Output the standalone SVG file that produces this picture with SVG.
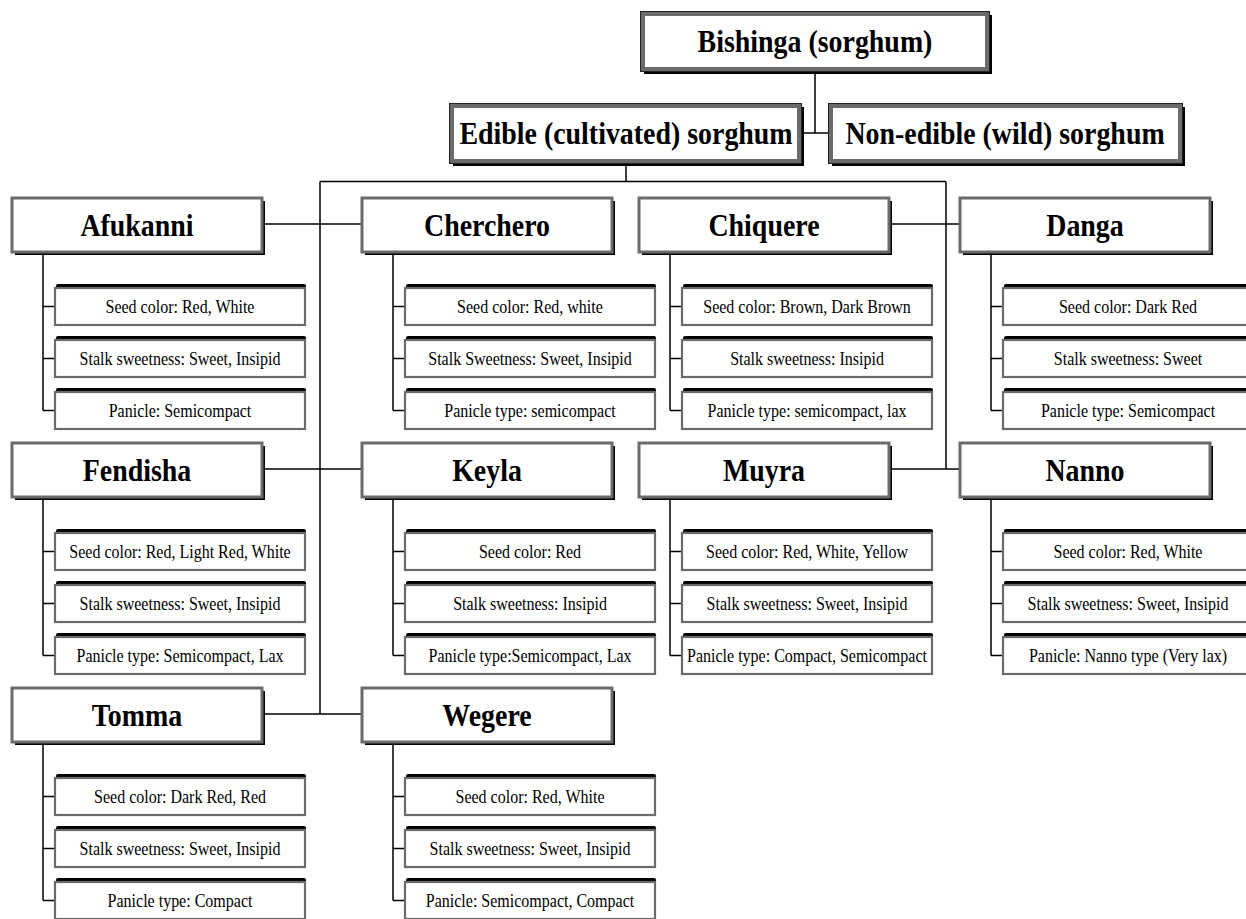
<svg xmlns="http://www.w3.org/2000/svg" width="1246" height="919" viewBox="0 0 1246 919">
<style>
.bg{fill:#fff}
.sh{fill:#000}
.top{fill:#fff;stroke:#6b6b6b;stroke-width:4}
.topo{fill:none;stroke:#222;stroke-width:1}
.cat{fill:#fff;stroke:#6b6b6b;stroke-width:3}
.att{fill:#fff;stroke:#6b6b6b;stroke-width:2.2}
.t1{font-family:"Liberation Serif","Times New Roman",serif;font-weight:bold;font-size:31px;fill:#000;text-anchor:middle;transform-box:fill-box;transform-origin:center;transform:scaleX(0.9)}
.t2{font-family:"Liberation Serif","Times New Roman",serif;font-size:18px;fill:#000;text-anchor:middle;transform-box:fill-box;transform-origin:center;transform:scaleX(0.89)}
.ln{fill:none;stroke:#000;stroke-width:1.5}
</style>
<rect class="bg" x="0" y="0" width="1246" height="919"/>
<g id="connectors">
<path class="ln" d="M815,72V133M802,133H829M626,164V181.5M320,181.5H946M320,181.5V714M946,181.5V469"/>
<path class="ln" d="M262,224H362M889,224H960M262,469H362M889,469H960M262,714H362"/>
<path class="ln" d="M43,252V410.5M43,306.5H55M43,358.5H55M43,410.5H55"/>
<path class="ln" d="M393,252V410.5M393,306.5H405M393,358.5H405M393,410.5H405"/>
<path class="ln" d="M670,252V410.5M670,306.5H682M670,358.5H682M670,410.5H682"/>
<path class="ln" d="M991,252V410.5M991,306.5H1003M991,358.5H1003M991,410.5H1003"/>
<path class="ln" d="M43,497V655.5M43,551.5H55M43,603.5H55M43,655.5H55"/>
<path class="ln" d="M393,497V655.5M393,551.5H405M393,603.5H405M393,655.5H405"/>
<path class="ln" d="M670,497V655.5M670,551.5H682M670,603.5H682M670,655.5H682"/>
<path class="ln" d="M991,497V655.5M991,551.5H1003M991,603.5H1003M991,655.5H1003"/>
<path class="ln" d="M43,742V900.5M43,796.5H55M43,848.5H55M43,900.5H55"/>
<path class="ln" d="M393,742V900.5M393,796.5H405M393,848.5H405M393,900.5H405"/>
</g>
<g id="bishinga">
<rect class="sh" x="644" y="15" width="348" height="59"/>
<rect class="top" x="643" y="14" width="344" height="55"/>
<rect class="topo" x="640.5" y="11.5" width="349" height="60"/>
<text class="t1" x="815" y="52">Bishinga (sorghum)</text>
</g>
<g id="edible">
<rect class="sh" x="453" y="107" width="351" height="59"/>
<rect class="top" x="452" y="106" width="347" height="55"/>
<rect class="topo" x="449.5" y="103.5" width="352" height="60"/>
<text class="t1" x="626" y="144">Edible (cultivated) sorghum</text>
</g>
<g id="nonedible">
<rect class="sh" x="832" y="107" width="353" height="59"/>
<rect class="top" x="831" y="106" width="349" height="55"/>
<rect class="topo" x="828.5" y="103.5" width="354" height="60"/>
<text class="t1" x="1005" y="144">Non-edible (wild) sorghum</text>
</g>
<defs>
<g id="a">
<rect class="sh" x="1" y="-4" width="250" height="38" rx="2"/>
<rect class="att" x="0" y="0" width="250" height="37"/>
</g>
<g id="c">
<rect class="sh" x="3" y="3" width="250" height="54"/>
<rect class="cat" x="0" y="0" width="250" height="54"/>
</g>
</defs>
<g id="afukanni">
<use href="#c" x="12" y="198"/><text class="t1" x="137" y="236">Afukanni</text>
<use href="#a" x="55" y="288"/><text class="t2" x="180" y="313">Seed color: Red, White</text>
<use href="#a" x="55" y="340"/><text class="t2" x="180" y="365">Stalk sweetness: Sweet, Insipid</text>
<use href="#a" x="55" y="392"/><text class="t2" x="180" y="417">Panicle: Semicompact</text>
</g>
<g id="cherchero">
<use href="#c" x="362" y="198"/><text class="t1" x="487" y="236">Cherchero</text>
<use href="#a" x="405" y="288"/><text class="t2" x="530" y="313">Seed color: Red, white</text>
<use href="#a" x="405" y="340"/><text class="t2" x="530" y="365">Stalk Sweetness: Sweet, Insipid</text>
<use href="#a" x="405" y="392"/><text class="t2" x="530" y="417">Panicle type: semicompact</text>
</g>
<g id="chiquere">
<use href="#c" x="639" y="198"/><text class="t1" x="764" y="236">Chiquere</text>
<use href="#a" x="682" y="288"/><text class="t2" x="807" y="313">Seed color: Brown, Dark Brown</text>
<use href="#a" x="682" y="340"/><text class="t2" x="807" y="365">Stalk sweetness: Insipid</text>
<use href="#a" x="682" y="392"/><text class="t2" x="807" y="417">Panicle type: semicompact, lax</text>
</g>
<g id="danga">
<use href="#c" x="960" y="198"/><text class="t1" x="1085" y="236">Danga</text>
<use href="#a" x="1003" y="288"/><text class="t2" x="1128" y="313">Seed color: Dark Red</text>
<use href="#a" x="1003" y="340"/><text class="t2" x="1128" y="365">Stalk sweetness: Sweet</text>
<use href="#a" x="1003" y="392"/><text class="t2" x="1128" y="417">Panicle type: Semicompact</text>
</g>
<g id="fendisha">
<use href="#c" x="12" y="443"/><text class="t1" x="137" y="481">Fendisha</text>
<use href="#a" x="55" y="533"/><text class="t2" x="180" y="558">Seed color: Red, Light Red, White</text>
<use href="#a" x="55" y="585"/><text class="t2" x="180" y="610">Stalk sweetness: Sweet, Insipid</text>
<use href="#a" x="55" y="637"/><text class="t2" x="180" y="662">Panicle type: Semicompact, Lax</text>
</g>
<g id="keyla">
<use href="#c" x="362" y="443"/><text class="t1" x="487" y="481">Keyla</text>
<use href="#a" x="405" y="533"/><text class="t2" x="530" y="558">Seed color: Red</text>
<use href="#a" x="405" y="585"/><text class="t2" x="530" y="610">Stalk sweetness: Insipid</text>
<use href="#a" x="405" y="637"/><text class="t2" x="530" y="662">Panicle type:Semicompact, Lax</text>
</g>
<g id="muyra">
<use href="#c" x="639" y="443"/><text class="t1" x="764" y="481">Muyra</text>
<use href="#a" x="682" y="533"/><text class="t2" x="807" y="558">Seed color: Red, White, Yellow</text>
<use href="#a" x="682" y="585"/><text class="t2" x="807" y="610">Stalk sweetness: Sweet, Insipid</text>
<use href="#a" x="682" y="637"/><text class="t2" x="807" y="662">Panicle type: Compact, Semicompact</text>
</g>
<g id="nanno">
<use href="#c" x="960" y="443"/><text class="t1" x="1085" y="481">Nanno</text>
<use href="#a" x="1003" y="533"/><text class="t2" x="1128" y="558">Seed color: Red, White</text>
<use href="#a" x="1003" y="585"/><text class="t2" x="1128" y="610">Stalk sweetness: Sweet, Insipid</text>
<use href="#a" x="1003" y="637"/><text class="t2" x="1128" y="662">Panicle: Nanno type (Very lax)</text>
</g>
<g id="tomma">
<use href="#c" x="12" y="688"/><text class="t1" x="137" y="726">Tomma</text>
<use href="#a" x="55" y="778"/><text class="t2" x="180" y="803">Seed color: Dark Red, Red</text>
<use href="#a" x="55" y="830"/><text class="t2" x="180" y="855">Stalk sweetness: Sweet, Insipid</text>
<use href="#a" x="55" y="882"/><text class="t2" x="180" y="907">Panicle type: Compact</text>
</g>
<g id="wegere">
<use href="#c" x="362" y="688"/><text class="t1" x="487" y="726">Wegere</text>
<use href="#a" x="405" y="778"/><text class="t2" x="530" y="803">Seed color: Red, White</text>
<use href="#a" x="405" y="830"/><text class="t2" x="530" y="855">Stalk sweetness: Sweet, Insipid</text>
<use href="#a" x="405" y="882"/><text class="t2" x="530" y="907">Panicle: Semicompact, Compact</text>
</g>
</svg>
